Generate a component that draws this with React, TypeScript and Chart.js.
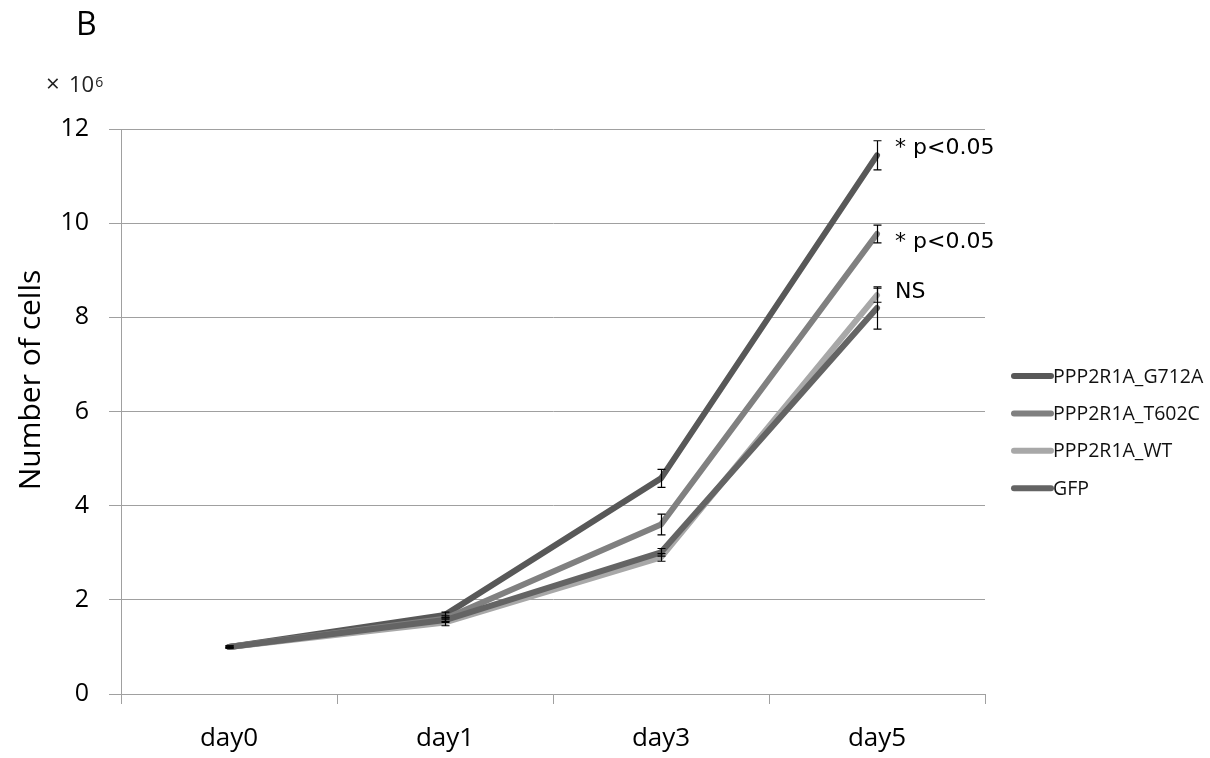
import React, { useEffect, useRef } from "react";
import { Chart, registerables } from "chart.js";

Chart.register(...registerables);

const categories = ["day0", "day1", "day3", "day5"];
const seriesNames = ["PPP2R1A_G712A", "PPP2R1A_T602C", "PPP2R1A_WT", "GFP"];
const seriesColors = ["#585858", "#808080", "#a8a8a8", "#646464"];

const g712a = [1.0, 1.68, 4.58, 11.44];
const g712aErr = [0.02, 0.06, 0.19, 0.31];
const t602c = [1.0, 1.6, 3.6, 9.77];
const t602cErr = [0.02, 0.06, 0.22, 0.19];
const wt = [1.0, 1.52, 2.9, 8.47];
const wtErr = [0.02, 0.07, 0.08, 0.15];
const gfp = [1.0, 1.57, 3.01, 8.2];
const gfpErr = [0.02, 0.05, 0.08, 0.45];

const seriesValues = [g712a, t602c, wt, gfp];
const seriesErrors = [g712aErr, t602cErr, wtErr, gfpErr];

const yTicks = [0, 2, 4, 6, 8, 10, 12];

const annotationTexts = ["* p<0.05", "* p<0.05", "NS"];
const annotationY = [11.6, 9.6, 8.54];

const FONT = "'Open Sans', sans-serif";
const GRID = "#a0a0a0";

const errorBarPlugin = {
  id: "errorBars",
  afterDatasetsDraw(chart: any) {
    const ctx = chart.ctx;
    const y = chart.scales.y;
    ctx.save();
    ctx.strokeStyle = "#000";
    ctx.lineWidth = 1.2;
    chart.data.datasets.forEach((ds: any, di: number) => {
      const meta = chart.getDatasetMeta(di);
      const errs = seriesErrors[di];
      meta.data.forEach((pt: any, i: number) => {
        const v = ds.data[i];
        const e = errs[i];
        const x = Math.round(pt.x) + 0.5;
        const y1 = y.getPixelForValue(v + e);
        const y2 = y.getPixelForValue(v - e);
        ctx.beginPath();
        ctx.moveTo(x, y1);
        ctx.lineTo(x, y2);
        ctx.moveTo(x - 4, y1);
        ctx.lineTo(x + 4, y1);
        ctx.moveTo(x - 4, y2);
        ctx.lineTo(x + 4, y2);
        ctx.stroke();
      });
    });
    ctx.restore();
  },
};

const textPlugin = {
  id: "texts",
  afterDraw(chart: any) {
    const ctx = chart.ctx;
    const area = chart.chartArea;
    const xs = chart.scales.x;
    const ys = chart.scales.y;
    ctx.save();
    ctx.fillStyle = "#000";
    // panel letter
    ctx.font = `32px ${FONT}`;
    ctx.textAlign = "left";
    ctx.textBaseline = "alphabetic";
    ctx.fillText("B", 76, 35);
    // multiplier
    ctx.fillStyle = "#222";
    ctx.font = `24px ${FONT}`;
    ctx.fillText("\u00d7", 46, 92);
    ctx.font = `22px ${FONT}`;
    ctx.fillText("10", 69, 92);
    const w = ctx.measureText("10").width;
    ctx.font = `14px ${FONT}`;
    ctx.fillText("6", 69 + w + 1, 87);
    // y axis title
    ctx.fillStyle = "#000";
    ctx.save();
    ctx.translate(31, 380);
    ctx.rotate(-Math.PI / 2);
    ctx.font = `30px ${FONT}`;
    ctx.textAlign = "center";
    ctx.textBaseline = "middle";
    ctx.fillText("Number of cells", 0, 0);
    ctx.restore();
    // annotations
    ctx.font = `22px 'DejaVu Sans', sans-serif`;
    ctx.textAlign = "left";
    ctx.textBaseline = "middle";
    const xLast = xs.getPixelForValue(categories.length - 1);
    annotationTexts.forEach((t, i) => {
      ctx.fillText(t, xLast + 18, ys.getPixelForValue(annotationY[i]));
    });
    // legend
    const lx = area.right + 26;
    const ly = 376;
    const step = 37.4;
    ctx.font = `19.5px ${FONT}`;
    ctx.textBaseline = "middle";
    seriesNames.forEach((name, i) => {
      const yy = ly + i * step;
      ctx.strokeStyle = seriesColors[i];
      ctx.lineWidth = 6;
      ctx.lineCap = "round";
      ctx.beginPath();
      ctx.moveTo(lx + 3, yy);
      ctx.lineTo(lx + 40, yy);
      ctx.stroke();
      ctx.fillStyle = "#111";
      ctx.fillText(name, lx + 42, yy + 1);
    });
    ctx.restore();
  },
};

export default function App() {
  const ref = useRef<HTMLCanvasElement | null>(null);
  useEffect(() => {
    document.body.style.margin = "0";
    const canvas = ref.current;
    if (!canvas) return;
    const chart = new Chart(canvas, {
      type: "line",
      data: {
        labels: categories,
        datasets: seriesNames.map((name, i) => ({
          label: name,
          data: seriesValues[i],
          borderColor: seriesColors[i],
          backgroundColor: seriesColors[i],
          borderWidth: 6,
          pointRadius: 0,
          tension: 0,
          borderJoinStyle: "round",
          borderCapStyle: "round",
          order: 4 - i,
        })),
      },
      options: {
        responsive: false,
        animation: false,
        layout: { padding: { left: 0, top: 129, right: 225, bottom: 0 } },
        plugins: {
          legend: { display: false },
          tooltip: { enabled: false },
          title: { display: false },
        },
        scales: {
          x: {
            type: "category",
            offset: true,
            grid: {
              offset: true,
              drawOnChartArea: false,
              drawTicks: true,
              tickLength: 10,
              color: GRID,
            },
            border: { color: GRID, width: 1 },
            ticks: {
              padding: 19,
              color: "#000",
              font: { family: "'Open Sans', sans-serif", size: 26 },
            },
            afterFit(scale: any) {
              scale.height = 64;
            },
          },
          y: {
            min: 0,
            max: 12,
            afterBuildTicks(scale: any) {
              scale.ticks = yTicks.map((v) => ({ value: v }));
            },
            grid: {
              color: GRID,
              tickLength: 12,
              drawTicks: true,
            },
            border: { color: GRID, width: 1 },
            ticks: {
              padding: 20,
              color: "#000",
              font: { family: "'Open Sans', sans-serif", size: 25 },
            },
            afterFit(scale: any) {
              scale.width = 121;
            },
          },
        },
      },
      plugins: [errorBarPlugin, textPlugin],
    } as any);
    return () => chart.destroy();
  }, []);
  return (
    <div style={{ width: 1210, height: 758, background: "#fff" }}>
      <canvas ref={ref} width={1210} height={758} style={{ display: "block" }} />
    </div>
  );
}
